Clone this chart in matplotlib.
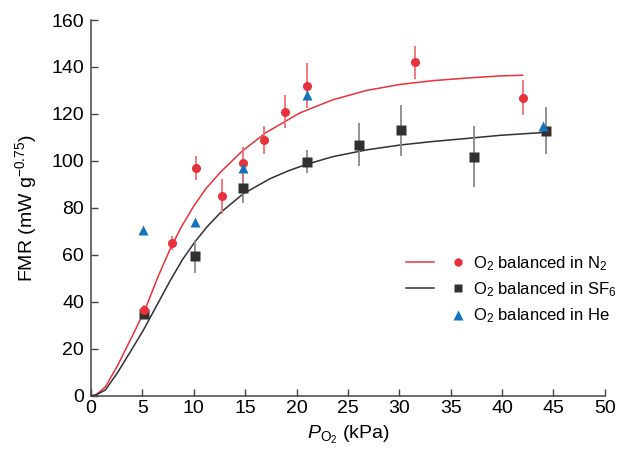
import matplotlib
matplotlib.use("Agg")
import matplotlib.pyplot as plt
from matplotlib.lines import Line2D
from matplotlib.legend_handler import HandlerTuple

plt.rcParams['font.family'] = ['Liberation Sans', 'DejaVu Sans']
plt.rcParams['mathtext.fontset'] = 'custom'
plt.rcParams['mathtext.rm'] = 'Liberation Sans'
plt.rcParams['mathtext.it'] = 'Liberation Sans:italic'
plt.rcParams['mathtext.bf'] = 'Liberation Sans:bold'

# ---- data ----
n2_x = [5.2, 7.9, 10.2, 12.7, 14.8, 16.8, 18.9, 21.0, 31.5, 42.0]
n2_y = [36.5, 65, 97, 85, 99, 109, 121, 132, 142, 127]
n2_err = [2, 3, 5, 7.5, 7, 6, 7, 9.5, 7, 7.5]

sf6_x = [5.2, 10.1, 14.8, 21.0, 26.1, 30.2, 37.3, 44.3]
sf6_y = [35, 59.5, 88.5, 99.7, 107, 113, 101.7, 112.8]
sf6_err = [2, 7, 6.5, 5, 9, 11, 13, 10]

he_x = [5.1, 10.1, 14.8, 21.0, 44.0]
he_y = [70.8, 74, 97, 128, 115]

n2_fit_x = [0, 0.5, 1.4, 2.6, 4.3, 5.25, 6.5, 7.7, 8.8, 10.0, 11.2, 12.55, 14.66, 17.0, 20.3, 23.5, 26.8, 30.1, 33.3, 36.6, 39.8, 42.0]
n2_fit_y = [0, 0.5, 3.8, 13, 28, 36.6, 50.5, 62.5, 72, 80.8, 88.3, 95, 104, 112, 120.4, 126, 130, 132.6, 134.2, 135.3, 136.2, 136.5]

sf6_fit_x = [0, 0.5, 1.4, 2.6, 4.0, 5.1, 6.4, 7.7, 8.9, 10.1, 11.3, 12.55, 14.8, 17.4, 19.2, 21.0, 23.5, 26.8, 30.1, 33.3, 36.6, 39.8, 44.3]
sf6_fit_y = [0, 0.4, 2.5, 10, 20, 28, 38.5, 49, 58, 65.5, 72, 77.8, 86, 92.4, 95.8, 98.6, 101.8, 104.7, 106.8, 108.3, 109.6, 110.9, 112.2]

xticks = [0, 5, 10, 15, 20, 25, 30, 35, 40, 45, 50]
yticks = [0, 20, 40, 60, 80, 100, 120, 140, 160]

red = '#e8313a'
red_err = '#ee6f74'
blk = '#333033'
blk_err = '#8a8a8a'
blue = '#1574bd'

fig = plt.figure(figsize=(6.32, 4.55), dpi=100)
ax = fig.add_axes([0.144, 0.130, 0.813, 0.826])

ax.plot(n2_fit_x, n2_fit_y, color=red, lw=1.1, zorder=2, solid_joinstyle='round')
ax.plot(sf6_fit_x, sf6_fit_y, color=blk, lw=1.1, zorder=2, solid_joinstyle='round')

ax.errorbar(sf6_x, sf6_y, yerr=sf6_err, fmt='none', ecolor=blk_err, elinewidth=1.3, capsize=0, zorder=3)
ax.errorbar(n2_x, n2_y, yerr=n2_err, fmt='none', ecolor=red_err, elinewidth=1.3, capsize=0, zorder=3)
ax.plot(sf6_x, sf6_y, 's', color=blk, ms=6.5, mec='none', zorder=4)
ax.plot(n2_x, n2_y, 'o', color=red, ms=6.5, mec='none', zorder=5)
ax.plot(he_x, he_y, '^', color=blue, ms=7, mec='none', zorder=6)

ax.set_xlim(0, 50)
ax.set_ylim(0, 160)
ax.set_xticks(xticks)
ax.set_yticks(yticks)
for s in ['top', 'right']:
    ax.spines[s].set_visible(False)
for s in ['left', 'bottom']:
    ax.spines[s].set_color('#444444')
    ax.spines[s].set_linewidth(1.1)
ax.tick_params(direction='in', length=5, width=1.0, color='#444444', labelsize=14)
ax.tick_params(axis='y', pad=5)
ax.tick_params(axis='x', pad=3)

ax.set_xlabel(r'$\mathit{P}_{\mathrm{O_2}}$ (kPa)', fontsize=14, labelpad=5)
ax.set_ylabel(r'FMR (mW g$^{-0.75}$)', fontsize=14, labelpad=9)

ln_r = Line2D([], [], color=red, lw=1.1)
ln_k = Line2D([], [], color=blk, lw=1.1)
ln_n = Line2D([], [], color='none', lw=0)
mk_r = Line2D([], [], marker='o', color=red, ls='none', ms=6, mec='none')
mk_k = Line2D([], [], marker='s', color=blk, ls='none', ms=6, mec='none')
mk_b = Line2D([], [], marker='^', color=blue, ls='none', ms=6.5, mec='none')

leg = ax.legend([(ln_r, mk_r), (ln_k, mk_k), (ln_n, mk_b)],
                [r'O$_2$ balanced in N$_2$', r'O$_2$ balanced in SF$_6$', r'O$_2$ balanced in He'],
                handler_map={tuple: HandlerTuple(ndivide=None, pad=0.6)},
                loc='upper left', bbox_to_anchor=(0.6, 0.395), frameon=False,
                fontsize=12, handlelength=4.0, handletextpad=0.0, labelspacing=0.45,
                borderaxespad=0)

fig.savefig('out.png', dpi=100)
